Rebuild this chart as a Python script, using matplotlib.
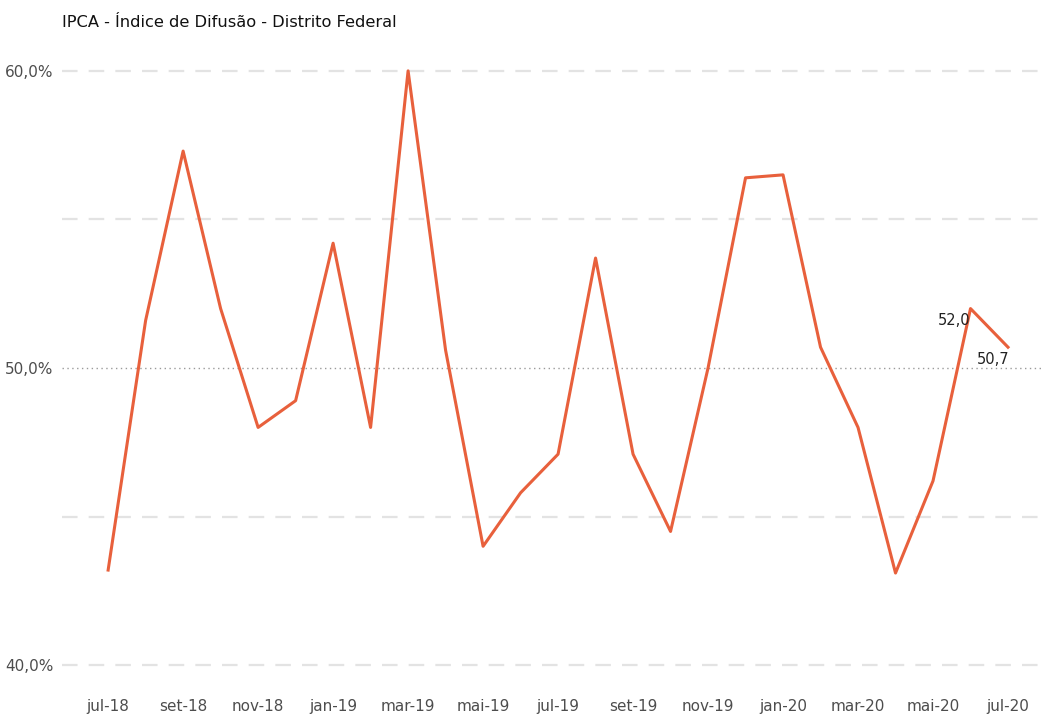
import matplotlib
matplotlib.use('Agg')
import matplotlib.pyplot as plt

# monthly diffusion index, jul-18 .. jul-20
months = ['jul-18', 'ago-18', 'set-18', 'out-18', 'nov-18', 'dez-18',
          'jan-19', 'fev-19', 'mar-19', 'abr-19', 'mai-19', 'jun-19',
          'jul-19', 'ago-19', 'set-19', 'out-19', 'nov-19', 'dez-19',
          'jan-20', 'fev-20', 'mar-20', 'abr-20', 'mai-20', 'jun-20', 'jul-20']
difusao = [43.2, 51.6, 57.3, 52.0, 48.0, 48.9,
           54.2, 48.0, 60.0, 50.6, 44.0, 45.8,
           47.1, 53.7, 47.1, 44.5, 50.0, 56.4,
           56.5, 50.7, 48.0, 43.1, 46.2, 52.0, 50.7]
y_ticks = [40, 50, 60]
grid_levels = [40, 45, 55, 60]

fig = plt.figure(figsize=(10.44, 7.17), dpi=100)
ax = fig.add_axes([0.0594, 0.0516, 0.9406, 0.8703])

x = list(range(len(months)))

for g in grid_levels:
    ax.axhline(g, color='#e3e3e3', lw=1.6, ls=(0, (7, 5)), zorder=1)
ax.axhline(50, color='#9a9a9a', lw=1.0, ls=(0, (1, 2.5)), zorder=1)

ax.plot(x, difusao, color='#e8603c', lw=2.2, zorder=3)

# labels for the last two points
ax.text(x[-2], difusao[-2] - 0.4, f'{difusao[-2]:.1f}'.replace('.', ','),
        ha='right', va='center', fontsize=10.5, color='#222222')
ax.text(x[-1] - 0.4, difusao[-1] - 0.4, f'{difusao[-1]:.1f}'.replace('.', ','),
        ha='center', va='center', fontsize=10.5, color='#222222')

ax.set_xlim(-1.23, 24.96)
ax.set_ylim(39.5, 60.5)
ax.set_xticks(x[::2])
ax.set_xticklabels(months[::2])
ax.set_yticks(y_ticks)
ax.set_yticklabels([f'{v:.1f}%'.replace('.', ',') for v in y_ticks])
ax.tick_params(axis='both', length=0, labelsize=11, labelcolor='#4d4d4d')
ax.tick_params(axis='x', pad=14)
ax.tick_params(axis='y', pad=6)
for s in ax.spines.values():
    s.set_visible(False)

fig.text(0.0594, 0.969, 'IPCA - Índice de Difusão - Distrito Federal',
         fontsize=11.7, color='#111111', va='center', ha='left')

fig.savefig('out.png', dpi=100, facecolor='white')
